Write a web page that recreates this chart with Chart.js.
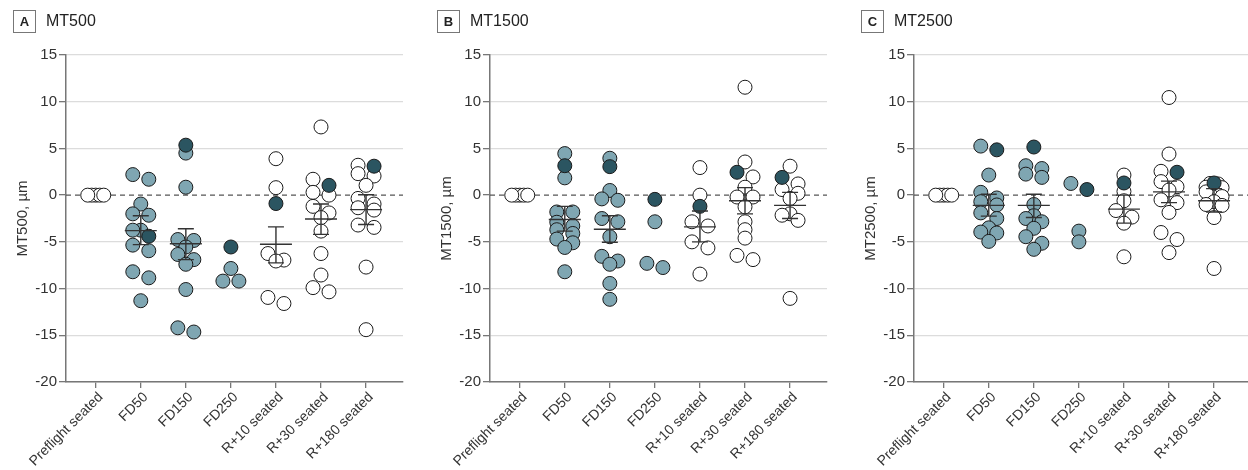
<!DOCTYPE html>
<html>
<head>
<meta charset="utf-8">
<script src="https://cdn.jsdelivr.net/npm/chart.js@4.4.1/dist/chart.umd.min.js"></script>
<style>
  html, body { margin: 0; padding: 0; background: #fff; }
  body { width: 1248px; height: 470px; overflow: hidden; position: relative; font-family: "Liberation Sans", Arial, sans-serif; }
  .panel { position: absolute; top: 0; width: 424px; height: 470px; }
  .panel canvas { position: absolute; left: 0; top: 0; }
  .tag { position: absolute; left: 13px; top: 10px; width: 21px; height: 21px; border: 1px solid #777;
         font-weight: bold; font-size: 13px; line-height: 21px; text-align: center; color: #222; }
  .name { position: absolute; left: 46px; top: 12px; font-size: 16px; color: #222; }
</style>
</head>
<body>
<div class="panel" style="left:0px"><canvas id="cA" width="424" height="470"></canvas><div class="tag">A</div><div class="name">MT500</div></div>
<div class="panel" style="left:424px"><canvas id="cB" width="424" height="470"></canvas><div class="tag">B</div><div class="name">MT1500</div></div>
<div class="panel" style="left:848px"><canvas id="cC" width="424" height="470"></canvas><div class="tag">C</div><div class="name">MT2500</div></div>
<script>
const categories = ['Preflight seated', 'FD50', 'FD150', 'FD250', 'R+10 seated', 'R+30 seated', 'R+180 seated'];
const yTicks = [-20, -15, -10, -5, 0, 5, 10, 15];

// MT500, µm (change from preflight)
const mt500Points = [
  [0, 0, 0, 0, 0],
  [2.2, 1.7, -0.95, -2.0, -2.15, -3.75, -3.75, -5.35, -5.95, -8.2, -8.85, -11.3],
  [4.5, 0.85, -4.75, -4.85, -5.55, -6.35, -6.9, -7.4, -10.1, -14.2, -14.65],
  [-7.85, -9.2, -9.2],
  [3.9, 0.8, -6.25, -6.95, -7.05, -10.95, -11.6],
  [7.3, 1.7, 0.3, 0.0, -1.2, -1.9, -2.4, -3.85, -6.25, -8.55, -9.9, -10.35],
  [3.2, 2.3, 2.05, 1.05, -0.35, -0.95, -1.35, -1.6, -3.2, -3.45, -7.7, -14.4]
];
const mt500Dark = [null, -4.4, 5.35, -5.55, -0.9, 1.05, 3.1];
const mt500Mean = [null, -3.8, -5.2, null, -5.25, -2.55, -1.55];
const mt500Low  = [null, -5.3, -6.9, null, -7.25, -4.2, -3.15];
const mt500High = [null, -2.2, -3.6, null, -3.4, -0.95, 0.05];

// MT1500, µm
const mt1500Points = [
  [0, 0, 0, 0, 0],
  [4.45, 1.85, -1.8, -1.8, -2.9, -3.3, -3.7, -4.1, -4.7, -5.1, -5.6, -8.2],
  [3.95, 0.5, -0.4, -0.55, -2.5, -2.85, -4.45, -6.55, -7.05, -7.4, -9.45, -11.15],
  [-2.85, -7.3, -7.75],
  [2.95, 0.0, -2.85, -3.3, -5.0, -5.65, -8.45],
  [11.55, 3.55, 1.95, 0.85, -0.2, -0.2, -1.25, -2.85, -3.7, -4.6, -6.45, -6.9],
  [3.1, 1.2, 0.6, 0.2, -0.35, -2.0, -2.15, -2.7, -11.05]
];
const mt1500Dark = [null, 3.15, 3.05, -0.45, -1.2, 2.45, 1.9];
const mt1500Mean = [null, -2.6, -3.65, null, -3.4, -0.6, -1.1];
const mt1500Low  = [null, -3.85, -5.05, null, -5.0, -2.0, -2.5];
const mt1500High = [null, -1.2, -2.2, null, -1.7, 0.8, 0.3];

// MT2500, µm
const mt2500Points = [
  [0, 0, 0, 0, 0],
  [5.25, 2.15, 0.3, -0.3, -0.7, -1.05, -1.9, -2.5, -3.5, -3.95, -4.05, -4.95],
  [3.15, 2.85, 2.25, 1.9, -1.0, -2.2, -2.5, -2.85, -3.55, -4.45, -5.15, -5.8],
  [1.25, -3.85, -5.0],
  [2.15, 0.4, -0.6, -1.65, -2.35, -3.0, -6.6],
  [10.45, 4.4, 2.55, 1.45, 0.9, 0.55, -0.5, -0.8, -1.85, -4.0, -4.75, -6.15],
  [1.25, 1.2, 0.85, 0.8, 0.35, -0.15, -0.7, -1.0, -1.1, -2.4, -7.85]
];
const mt2500Dark = [null, 4.85, 5.15, 0.6, 1.3, 2.45, 1.3];
const mt2500Mean = [null, -1.1, -1.1, null, -1.5, 0.35, -0.6];
const mt2500Low  = [null, -2.25, -2.4, null, -3.0, -0.8, -1.8];
const mt2500High = [null, 0.1, 0.1, null, 0.0, 1.5, 0.7];

const X_MIN = -0.66, X_MAX = 6.82;
const PX_X = 45.05, PX_Y = 9.33;   // approx pixels per category / per µm, used for the swarm spread
const LIGHT = '#7fa6b2', DARK = '#2b5561', OPEN = '#ffffff';

// simple swarm: group close values into rows, spread each row over 16px, centre first
function swarm(points, dark) {
  const out = [];
  points.forEach((cat, i) => {
    const all = cat.map(v => ({ v, dark: false }));
    if (dark[i] !== null) all.push({ v: dark[i], dark: true });
    all.sort((a, b) => b.v - a.v);
    const rows = [];
    all.forEach(p => {
      const row = rows[rows.length - 1];
      if (row && (row[0].v - p.v) * PX_Y < 7) row.push(p); else rows.push([p]);
    });
    rows.forEach(row => {
      const n = row.length;
      if (n === 1) { row[0].dx = 0; return; }
      const step = 16 / (n - 1);
      const slots = row.map((_, k) => -8 + k * step).sort((a, b) => Math.abs(a) - Math.abs(b) || a - b);
      row.forEach((p, k) => { p.dx = slots[k]; });
    });
    all.forEach(p => out.push({ x: i + p.dx / PX_X, y: p.v, dark: p.dark, cat: i }));
  });
  return out;
}

function meanBars(mean, low, high) {
  return {
    id: 'meanBars',
    afterDatasetsDraw(chart) {
      const { ctx, scales: { x, y } } = chart;
      ctx.save();
      ctx.strokeStyle = '#333';
      ctx.lineWidth = 1.4;
      mean.forEach((m, i) => {
        if (m === null) return;
        const cx = x.getPixelForValue(i);
        const ym = y.getPixelForValue(m), yl = y.getPixelForValue(low[i]), yh = y.getPixelForValue(high[i]);
        ctx.beginPath();
        ctx.moveTo(cx - 16, ym); ctx.lineTo(cx + 16, ym);
        ctx.moveTo(cx, yl); ctx.lineTo(cx, yh);
        ctx.moveTo(cx - 8, yl); ctx.lineTo(cx + 8, yl);
        ctx.moveTo(cx - 8, yh); ctx.lineTo(cx + 8, yh);
        ctx.stroke();
      });
      ctx.restore();
    }
  };
}

function makePanel(id, title, points, dark, mean, low, high) {
  const pts = swarm(points, dark);
  const others = pts.filter(p => !p.dark);
  const darks = pts.filter(p => p.dark);
  new Chart(document.getElementById(id), {
    type: 'scatter',
    data: {
      datasets: [
        { data: darks, backgroundColor: DARK, borderColor: '#1a1a1a', borderWidth: 1, pointRadius: 7, order: 0 },
        { data: others, backgroundColor: others.map(p => (p.cat >= 1 && p.cat <= 3) ? LIGHT : OPEN),
          borderColor: '#1a1a1a', borderWidth: 1, pointRadius: 7, order: 1 },
        { type: 'line', data: [{ x: X_MIN, y: 0 }, { x: X_MAX, y: 0 }], borderColor: '#555', borderWidth: 1.2,
          borderDash: [5, 4], pointRadius: 0, order: 2 }
      ]
    },
    options: {
      responsive: false,
      animation: false,
      events: [],
      layout: { padding: { left: 0, right: 21, top: 55, bottom: 0 } },
      plugins: { legend: { display: false }, tooltip: { enabled: false } },
      scales: {
        x: {
          type: 'linear', min: X_MIN, max: X_MAX,
          afterBuildTicks: s => { s.ticks = categories.map((c, i) => ({ value: i })); },
          ticks: { callback: v => categories[v], minRotation: 45, maxRotation: 45, autoSkip: false, labelOffset: 5,
                   font: { family: '"Liberation Sans", Arial, sans-serif', size: 14 }, color: '#333', padding: 1 },
          grid: { drawOnChartArea: false, tickColor: '#777', tickLength: 6, lineWidth: 1.3 },
          border: { color: '#777', width: 1.5 },
          afterFit: s => { s.height = 88; }
        },
        y: {
          min: -20, max: 15,
          afterBuildTicks: s => { s.ticks = yTicks.map(v => ({ value: v })); },
          ticks: { font: { family: '"Liberation Sans", Arial, sans-serif', size: 15 }, color: '#333', padding: 2 },
          grid: { color: c => (c.tick && c.tick.value === 0) ? 'rgba(0,0,0,0)' : '#dcdcdc', lineWidth: 1.3,
                  tickColor: '#777', tickLength: 7 },
          border: { color: '#777', width: 1.5 },
          title: { display: true, text: title + ', µm', color: '#333',
                   font: { family: '"Liberation Sans", Arial, sans-serif', size: 15 }, padding: { top: 14, bottom: 0 } },
          afterFit: s => { s.width = 66; }
        }
      }
    },
    plugins: [meanBars(mean, low, high)]
  });
}

makePanel('cA', 'MT500', mt500Points, mt500Dark, mt500Mean, mt500Low, mt500High);
makePanel('cB', 'MT1500', mt1500Points, mt1500Dark, mt1500Mean, mt1500Low, mt1500High);
makePanel('cC', 'MT2500', mt2500Points, mt2500Dark, mt2500Mean, mt2500Low, mt2500High);
</script>
</body>
</html>
